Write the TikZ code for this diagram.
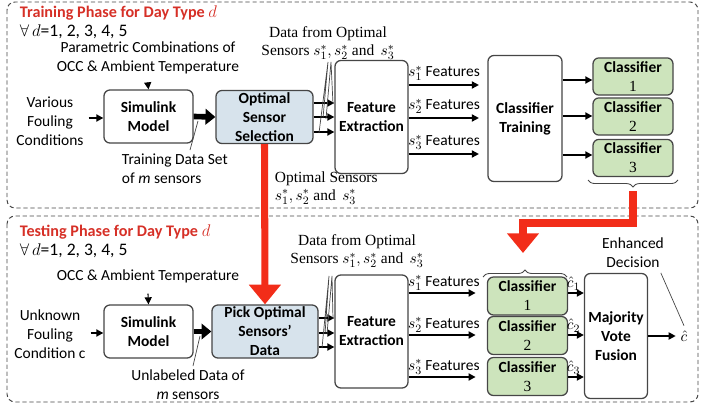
\documentclass[tikz,border=0pt]{standalone}
\usepackage{fontspec}
\setmainfont{Carlito}
\newfontfamily\seriffont{Liberation Serif}
\usepackage{tikz}
\usetikzlibrary{arrows.meta, decorations.pathreplacing, calc}
\definecolor{phasered}{RGB}{214,48,39}
\definecolor{flowred}{RGB}{242,45,25}
\definecolor{selblue}{RGB}{215,227,236}
\definecolor{clsgreen}{RGB}{205,228,188}
\definecolor{edgegray}{RGB}{70,70,70}
\newcommand{\txtsize}{\fontsize{11}{13.5}\selectfont}

\tikzset{
  box/.style={draw=edgegray, line width=0.9pt, rounded corners=0.15cm,
    align=center, font=\txtsize\bfseries, inner sep=1pt},
  simbox/.style={box, fill=white, minimum width=2.225cm, minimum height=1.325cm},
  selbox/.style={box, fill=selblue, minimum height=1.325cm},
  featbox/.style={box, fill=white, minimum width=1.825cm, minimum height=2.825cm},
  clsbox/.style={box, fill=clsgreen, minimum width=2.0cm, minimum height=0.93cm},
  serif/.style={font=\fontsize{11}{13}\seriffont, align=center},
  phasetitle/.style={anchor=west, text=phasered, font=\fontsize{11.5}{14}\selectfont\bfseries},
  dayrange/.style={anchor=west, font=\fontsize{12.5}{15}\selectfont},
  flow/.style={-{Triangle[length=5pt, width=5pt]}, line width=1.4pt},
  bigflow/.style={-{Triangle[length=7pt, width=11pt]}, line width=4pt},
  redflow/.style={-{Triangle[length=14pt, width=22pt]}, line width=5pt, flowred},
  pointer/.style={line width=0.5pt, edgegray},
  phase/.style={draw=edgegray, dash pattern=on 3pt off 2pt, line width=0.7pt,
    rounded corners=0.2cm},
  cbrace/.style={decorate, decoration={brace, amplitude=5pt}, edgegray, line width=0.6pt}
}

\begin{document}
\begin{tikzpicture}[x=0.025cm, y=-0.025cm, font=\txtsize]
\useasboundingbox (0,0) rectangle (705,414);

% phase frames
\draw[phase] (7,2) rectangle (698,208);
\draw[phase] (7,216) rectangle (698,402);

% ---------------- training phase ----------------
\node[phasetitle] (trtitle) at (15,13) {Training Phase for Day Type {\mdseries$d$}};
\node[dayrange] (trall) at (15,32) {$\forall\, d$=1, 2, 3, 4, 5};

\node[simbox] (sim1) at (148.5,116.5) {Simulink\\Model};
\node[selbox, minimum width=2.425cm] (opt) at (264.5,117) {Optimal\\Sensor\\Selection};
\node[featbox] (fe1) at (371.5,117) {Feature\\Extraction};
\node[box, fill=white, minimum width=1.85cm, minimum height=3.15cm] (ct) at (525,118.5)
  {Classifier\\Training};
\foreach \i/\y in {1/76.5, 2/116.5, 3/158}
  \node[clsbox] (tcl\i) at (633,\y) {Classifier\\{\mdseries\seriffont \i}};

\node[align=center] (param) at (148,58) {Parametric Combinations of\\OCC \& Ambient Temperature};
\draw[flow, line width=0.8pt] (param.south) ++(0,6) -- (sim1.north);
\node[align=center] (foul1) at (50,121) {Various\\Fouling\\Conditions};
\draw[flow] (foul1.east |- 0,118) -- (sim1.west |- 0,118);
\draw[bigflow] (sim1.east) -- (opt.west);
\node[align=left, anchor=west] (trdata) at (117,169) {Training Data Set\\of \textit{m} sensors};
\coordinate (trpt) at (198,121);
\draw[pointer] (trpt) -- (190,150);

\foreach \y in {103,117,132}
  \draw[flow] (opt.east |- 0,\y) -- (fe1.west |- 0,\y);
\coordinate (fan1) at (328,62);
\coordinate (fan2) at (331,62);
\draw[pointer] (319,133) -- (fan1) -- (323,118);
\draw[pointer] (326,119) -- (fan2) -- (333,104);
\node[serif] (dfo1) at (328,43) {Data from Optimal\\Sensors $s_1^*, s_2^*$ and\, $s_3^*$};
\node[serif, align=left, anchor=west] (osens) at (270,188) {Optimal Sensors\\$s_1^*, s_2^*$ and\, $s_3^*$};

\foreach \i/\y in {1/85, 2/118, 3/154}
  \draw[flow, shorten >=6pt] (fe1.east |- 0,\y) -- (ct.west |- 0,\y)
    node[pos=0.45, above=-1pt] {$s_\i^*$ Features};
\foreach \i/\y in {1/80, 2/116, 3/155}
  \draw[flow] (ct.east |- 0,\y) -- (tcl\i.west |- 0,\y);

\draw[cbrace] (678,180) -- (588,180);
\coordinate (tbrace) at (633,191);

% ---------------- testing phase ----------------
\node[phasetitle] (tetitle) at (15,232) {Testing Phase for Day Type {\mdseries$d$}};
\node[dayrange] (teall) at (15,251) {$\forall\, d$=1, 2, 3, 4, 5};

\node[simbox] (sim2) at (148.5,331.5) {Simulink\\Model};
\node[selbox, minimum width=2.65cm] (pick) at (265,331.5) {Pick Optimal\\Sensors'\\Data};
\node[featbox] (fe2) at (371.5,331.5) {Feature\\Extraction};
\foreach \i/\y in {1/296, 2/335.5, 3/376.5}
  \node[clsbox, minimum height=0.95cm] (scl\i) at (527.5,\y) {Classifier\\{\mdseries\seriffont \i}};
\node[box, fill=white, minimum width=1.575cm, minimum height=3.125cm] (maj) at (616,336)
  {Majority\\Vote\\Fusion};

\node (occ) at (148,276) {OCC \& Ambient Temperature};
\draw[flow, line width=0.8pt] (occ.south) ++(0,6) -- (sim2.north);
\node[align=center] (foul2) at (50,334) {Unknown\\Fouling\\Condition c};
\draw[flow] (foul2.east |- 0,333) -- (sim2.west |- 0,333);
\draw[bigflow] (sim2.east) -- (pick.west);
\node[align=center] (unlab) at (188,385) {Unlabeled Data of\\\textit{m} sensors};
\coordinate (unpt) at (200,336);
\draw[pointer] (unpt) -- (193,366);

\foreach \y in {318,333,347}
  \draw[flow] (pick.east |- 0,\y) -- (fe2.west |- 0,\y);
\coordinate (fan3) at (329,276);
\coordinate (fan4) at (332,276);
\draw[pointer] (322,348) -- (fan3) -- (325,334);
\draw[pointer] (327,334) -- (fan4) -- (333,319);
\node[serif] (dfo2) at (357,251) {Data from Optimal\\Sensors $s_1^*, s_2^*$ and\, $s_3^*$};

\foreach \i/\y in {1/293, 2/335, 3/377}
  \draw[flow, shorten >=8pt] (fe2.east |- 0,\y) -- (scl\i.west |- 0,\y)
    node[pos=0.45, above=-2pt] {$s_\i^*$ Features};
\foreach \i/\y in {1/293, 2/335, 3/377}
  \draw[flow] (scl\i.east |- 0,\y) -- (maj.west |- 0,\y)
    node[pos=0.35, above=-2pt, font=\fontsize{11}{13.5}\seriffont] {$\hat{c}_\i$};

\draw[cbrace] (483,277) -- (567,277);
\coordinate (sbrace) at (523,253);

\node (chat) at (684,336) {$\hat{c}$};
\draw[flow] (maj.east) -- (chat.west);
\node[align=center] (enh) at (633,253) {Enhanced\\Decision};
\draw[pointer] ($(enh.south east)+(-8,0)$) -- (chat.north);

% hand-over of the optimal sensors and classifiers
\draw[redflow] (opt.south) -- (pick.north);
\draw[redflow] (tbrace) -- (tbrace |- 0,223) -- (sbrace |- 0,223) -- (sbrace);
\end{tikzpicture}
\end{document}
